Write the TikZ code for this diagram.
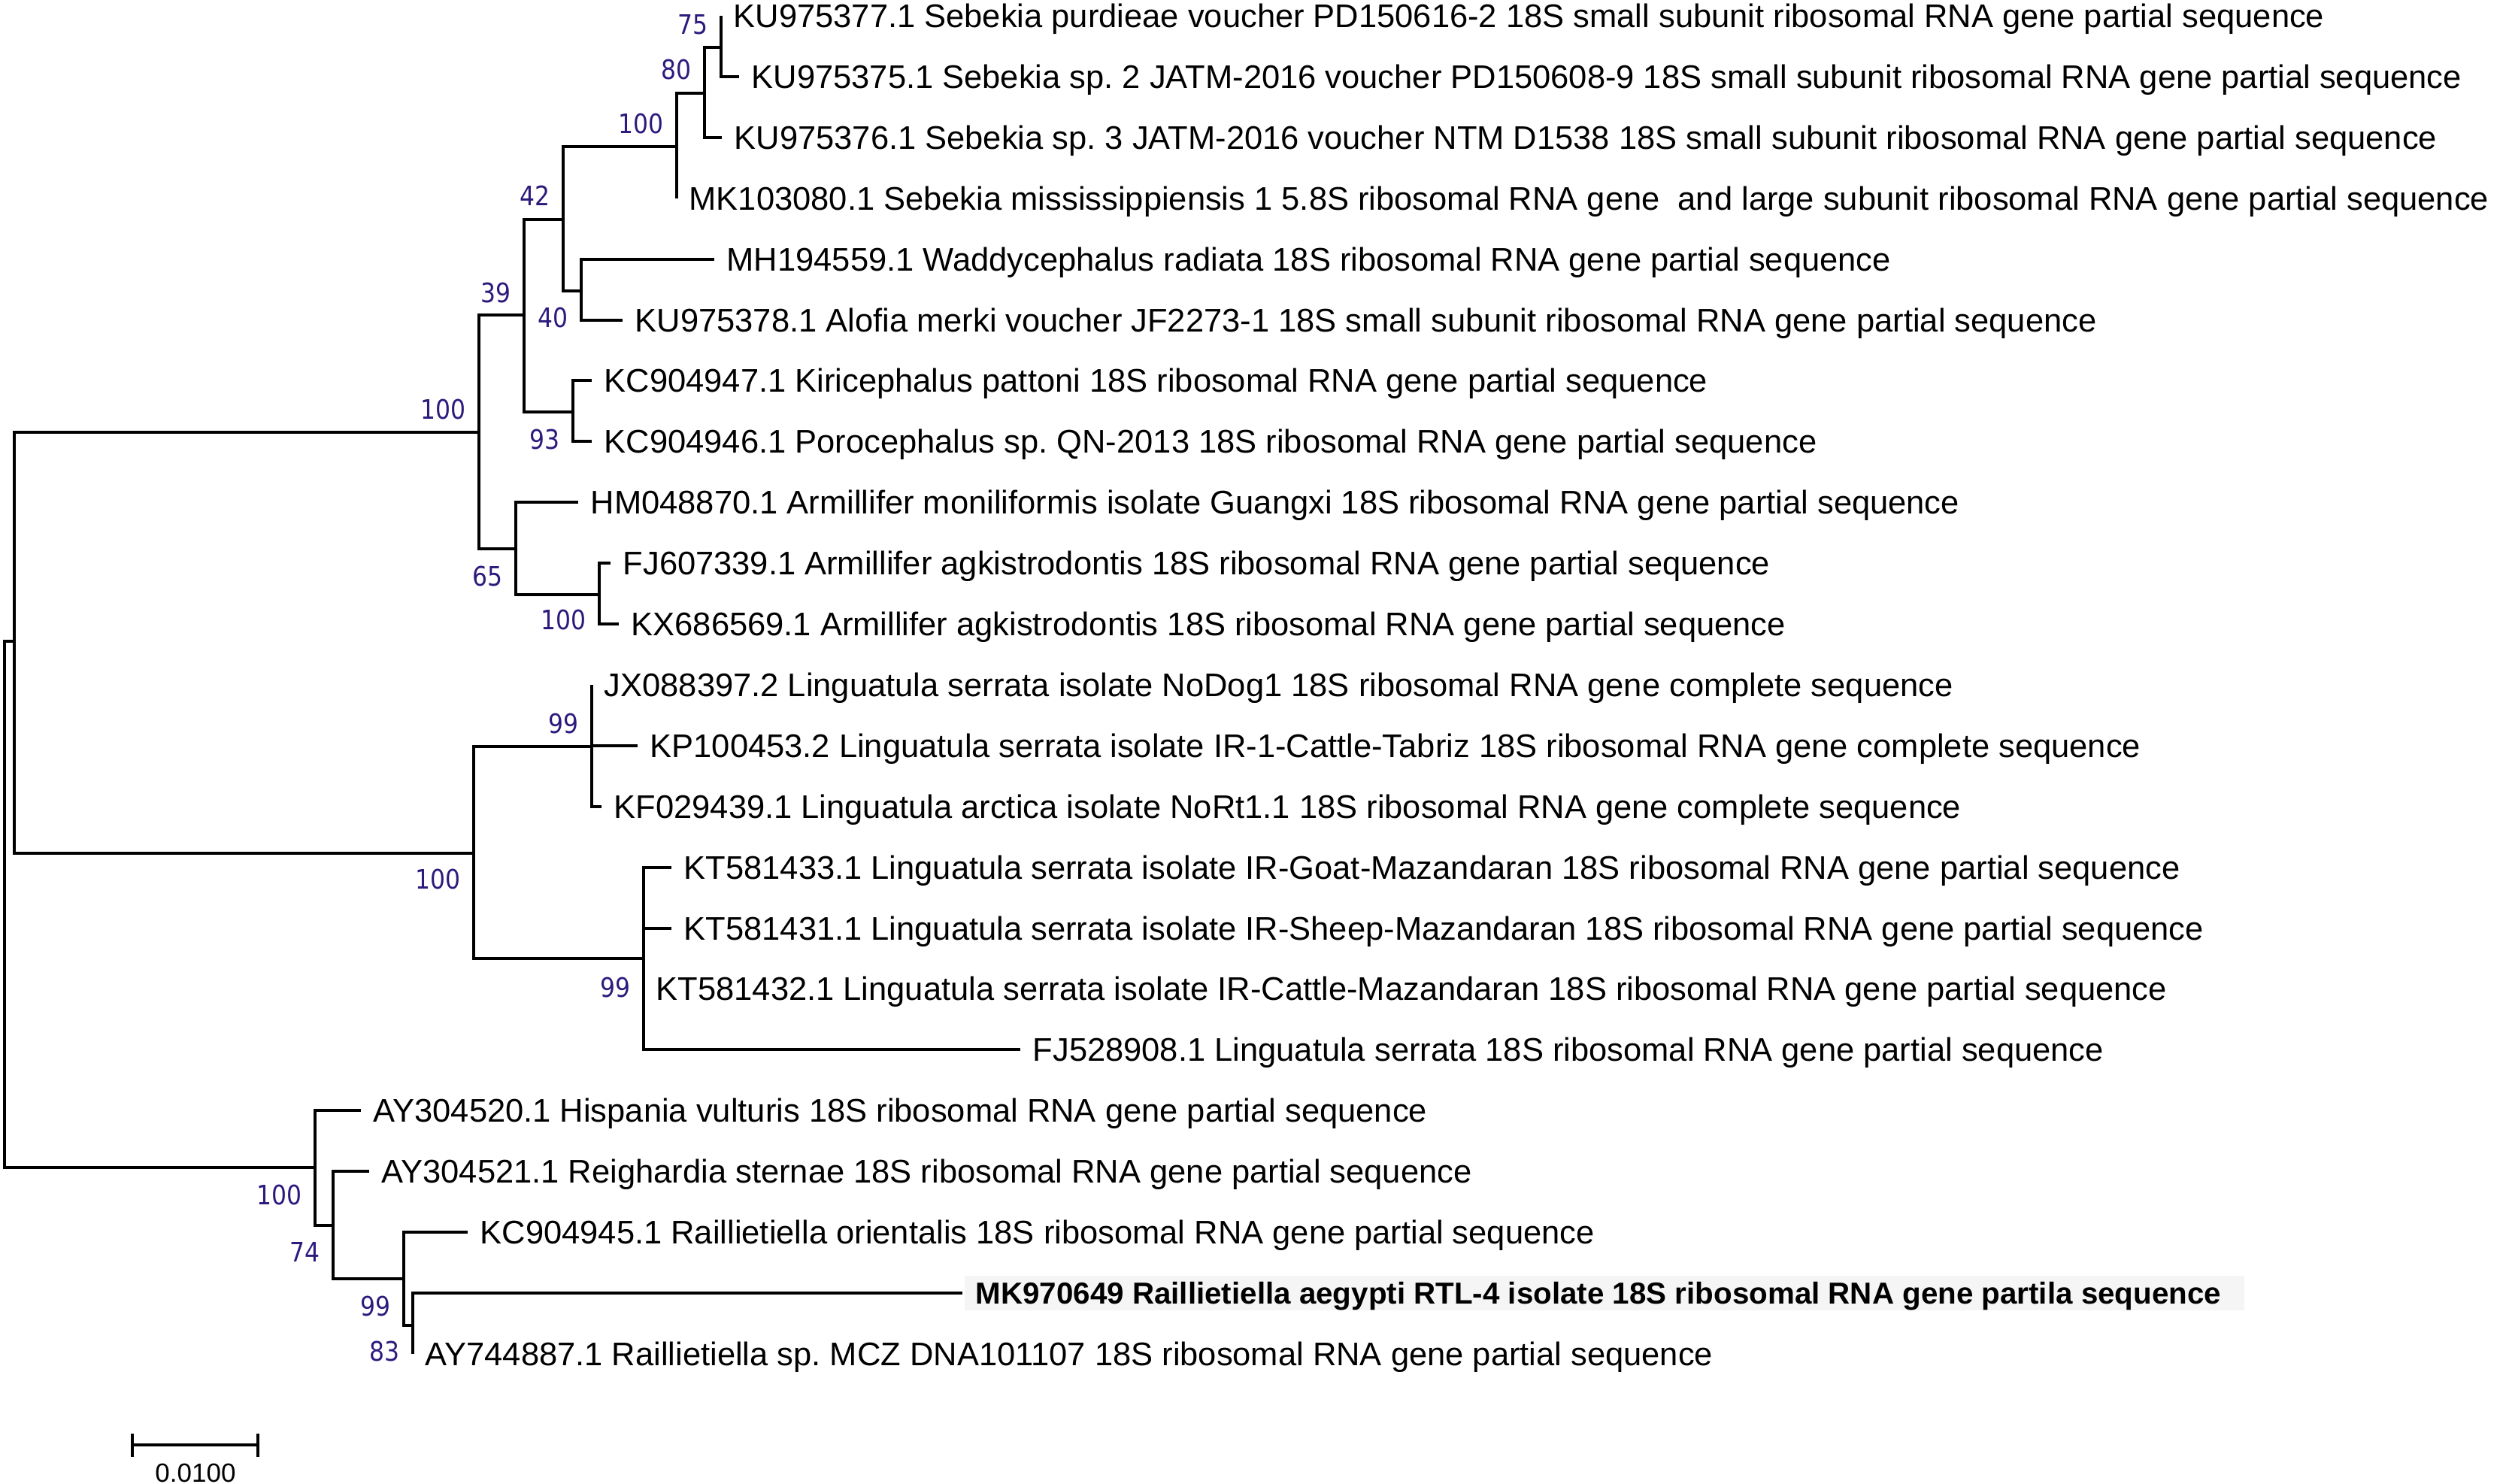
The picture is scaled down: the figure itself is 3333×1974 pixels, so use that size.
\documentclass[tikz,border=0pt]{standalone}
\usepackage{fontspec}
\setmainfont{Liberation Sans}
\newfontfamily\bsfont[FakeStretch=0.88]{DejaVu Sans}
\definecolor{bscol}{RGB}{46,26,125}
\frenchspacing
\begin{document}
\begin{tikzpicture}[x=0.3pt,y=-0.3pt,
  branch/.style={line width=1.2pt,black},
  leaf/.style={anchor=base west,inner sep=0pt,xshift=4.8pt,yshift=-4.65pt,font=\fontsize{13.05}{14}\selectfont},
  leafbold/.style={anchor=base west,inner sep=0pt,xshift=5.1pt,yshift=-4.3pt,font=\bfseries\fontsize{12.1}{13}\selectfont},
  boot/.style={anchor=east,inner sep=0pt,xshift=-5.1pt,text=bscol,font=\bsfont\fontsize{10.7}{12}\selectfont},
  scalelbl/.style={inner sep=0pt,font=\fontsize{10.5}{12}\selectfont}]
\useasboundingbox (0,0) rectangle (3333,1974);
% internal nodes
\coordinate (root) at (6,1203);
\coordinate (nA) at (19,853);
\coordinate (n100a) at (637,575);
\coordinate (n39) at (697,419);
\coordinate (n42) at (749,292);
\coordinate (n100s) at (900,195);
\coordinate (n80) at (937,124);
\coordinate (n75) at (959,63);
\coordinate (n40) at (773,387);
\coordinate (n93) at (762,548);
\coordinate (n65) at (686,730);
\coordinate (n100m) at (797,791);
\coordinate (n100L) at (630,1135);
\coordinate (n99a) at (787,993);
\coordinate (n99b) at (856,1275);
\coordinate (n100R) at (419,1553);
\coordinate (n74) at (443,1630);
\coordinate (n99c) at (537,1701);
\coordinate (n83) at (549,1763);
% leaf tips
\coordinate (t0) at (959,21);
\coordinate (t1) at (983,102);
\coordinate (t2) at (960,183);
\coordinate (t3) at (900,264);
\coordinate (t4) at (950,345);
\coordinate (t5) at (828,426);
\coordinate (t6) at (787,506);
\coordinate (t7) at (787,587);
\coordinate (t8) at (769,668);
\coordinate (t9) at (812,749);
\coordinate (t10) at (823,830);
\coordinate (t11) at (787,911);
\coordinate (t12) at (848,992);
\coordinate (t13) at (800,1073);
\coordinate (t14) at (893,1154);
\coordinate (t15) at (893,1235);
\coordinate (t16) at (856,1315);
\coordinate (t17) at (1357,1396);
\coordinate (t18) at (480,1477);
\coordinate (t19) at (491,1558);
\coordinate (t20) at (622,1639);
\coordinate (t21) at (1280,1720);
\coordinate (t22) at (549,1801);
% branches
\draw[branch] (root) |- (nA);
\draw[branch] (root) |- (n100R);
\draw[branch] (nA) |- (n100a);
\draw[branch] (nA) |- (n100L);
\draw[branch] (n100a) |- (n39);
\draw[branch] (n100a) |- (n65);
\draw[branch] (n39) |- (n42);
\draw[branch] (n39) |- (n93);
\draw[branch] (n42) |- (n100s);
\draw[branch] (n42) |- (n40);
\draw[branch] (n100s) |- (n80);
\draw[branch] (n100s) |- (t3);
\draw[branch] (n80) |- (n75);
\draw[branch] (n80) |- (t2);
\draw[branch] (n75) |- (t0);
\draw[branch] (n75) |- (t1);
\draw[branch] (n40) |- (t4);
\draw[branch] (n40) |- (t5);
\draw[branch] (n93) |- (t6);
\draw[branch] (n93) |- (t7);
\draw[branch] (n65) |- (t8);
\draw[branch] (n65) |- (n100m);
\draw[branch] (n100m) |- (t9);
\draw[branch] (n100m) |- (t10);
\draw[branch] (n100L) |- (n99a);
\draw[branch] (n100L) |- (n99b);
\draw[branch] (n99a) |- (t11);
\draw[branch] (n99a) |- (t12);
\draw[branch] (n99a) |- (t13);
\draw[branch] (n99b) |- (t14);
\draw[branch] (n99b) |- (t15);
\draw[branch] (n99b) |- (t16);
\draw[branch] (n99b) |- (t17);
\draw[branch] (n100R) |- (t18);
\draw[branch] (n100R) |- (n74);
\draw[branch] (n74) |- (t19);
\draw[branch] (n74) |- (n99c);
\draw[branch] (n99c) |- (t20);
\draw[branch] (n99c) |- (n83);
\draw[branch] (n83) |- (t21);
\draw[branch] (n83) |- (t22);
% highlight behind the new sequence
\fill[black!4] (1283,1697) rectangle (2985,1743);
% leaf labels
\node[leaf] (l0) at (t0) {KU975377.1 Sebekia purdieae voucher PD150616-2 18S small subunit ribosomal RNA gene partial sequence};
\node[leaf] (l1) at (t1) {KU975375.1 Sebekia sp. 2 JATM-2016 voucher PD150608-9 18S small subunit ribosomal RNA gene partial sequence};
\node[leaf] (l2) at (t2) {KU975376.1 Sebekia sp. 3 JATM-2016 voucher NTM D1538 18S small subunit ribosomal RNA gene partial sequence};
\node[leaf] (l3) at (t3) {MK103080.1 Sebekia mississippiensis 1 5.8S ribosomal RNA gene\ \ and large subunit ribosomal RNA gene partial sequence};
\node[leaf] (l4) at (t4) {MH194559.1 Waddycephalus radiata 18S ribosomal RNA gene partial sequence};
\node[leaf] (l5) at (t5) {KU975378.1 Alofia merki voucher JF2273-1 18S small subunit ribosomal RNA gene partial sequence};
\node[leaf] (l6) at (t6) {KC904947.1 Kiricephalus pattoni 18S ribosomal RNA gene partial sequence};
\node[leaf] (l7) at (t7) {KC904946.1 Porocephalus sp. QN-2013 18S ribosomal RNA gene partial sequence};
\node[leaf] (l8) at (t8) {HM048870.1 Armillifer moniliformis isolate Guangxi 18S ribosomal RNA gene partial sequence};
\node[leaf] (l9) at (t9) {FJ607339.1 Armillifer agkistrodontis 18S ribosomal RNA gene partial sequence};
\node[leaf] (l10) at (t10) {KX686569.1 Armillifer agkistrodontis 18S ribosomal RNA gene partial sequence};
\node[leaf] (l11) at (t11) {JX088397.2 Linguatula serrata isolate NoDog1 18S ribosomal RNA gene complete sequence};
\node[leaf] (l12) at (t12) {KP100453.2 Linguatula serrata isolate IR-1-Cattle-Tabriz 18S ribosomal RNA gene complete sequence};
\node[leaf] (l13) at (t13) {KF029439.1 Linguatula arctica isolate NoRt1.1 18S ribosomal RNA gene complete sequence};
\node[leaf] (l14) at (t14) {KT581433.1 Linguatula serrata isolate IR-Goat-Mazandaran 18S ribosomal RNA gene partial sequence};
\node[leaf] (l15) at (t15) {KT581431.1 Linguatula serrata isolate IR-Sheep-Mazandaran 18S ribosomal RNA gene partial sequence};
\node[leaf] (l16) at (t16) {KT581432.1 Linguatula serrata isolate IR-Cattle-Mazandaran 18S ribosomal RNA gene partial sequence};
\node[leaf] (l17) at (t17) {FJ528908.1 Linguatula serrata 18S ribosomal RNA gene partial sequence};
\node[leaf] (l18) at (t18) {AY304520.1 Hispania vulturis 18S ribosomal RNA gene partial sequence};
\node[leaf] (l19) at (t19) {AY304521.1 Reighardia sternae 18S ribosomal RNA gene partial sequence};
\node[leaf] (l20) at (t20) {KC904945.1 Raillietiella orientalis 18S ribosomal RNA gene partial sequence};
\node[leafbold] (l21) at (t21) {MK970649 Raillietiella aegypti RTL-4 isolate 18S ribosomal RNA gene partila sequence};
\node[leaf] (l22) at (t22) {AY744887.1 Raillietiella sp. MCZ DNA101107 18S ribosomal RNA gene partial sequence};
% bootstrap values
\node[boot] (b75) at (959,33) {75};
\node[boot] (b80) at (937,93) {80};
\node[boot] (b100s) at (900,165) {100};
\node[boot] (b42) at (749,260) {42};
\node[boot] (b39) at (697,390) {39};
\node[boot] (b40) at (773,423) {40};
\node[boot] (b93) at (762,585) {93};
\node[boot] (b100a) at (637,545) {100};
\node[boot] (b65) at (686,767) {65};
\node[boot] (b100m) at (797,825) {100};
\node[boot] (b99a) at (787,963) {99};
\node[boot] (b100L) at (630,1170) {100};
\node[boot] (b99b) at (856,1314) {99};
\node[boot] (b100R) at (419,1590) {100};
\node[boot] (b74) at (443,1665) {74};
\node[boot] (b99c) at (537,1737) {99};
\node[boot] (b83) at (549,1797) {83};
% scale bar
\coordinate (sbL) at (176,1922);
\coordinate (sbR) at (343,1922);
\draw[branch] (sbL) -- (sbR);
\draw[branch] (176,1907) -- (176,1938);
\draw[branch] (343,1907) -- (343,1938);
\node[scalelbl] (sbt) at (260,1959) {0.0100};
\end{tikzpicture}
\end{document}
